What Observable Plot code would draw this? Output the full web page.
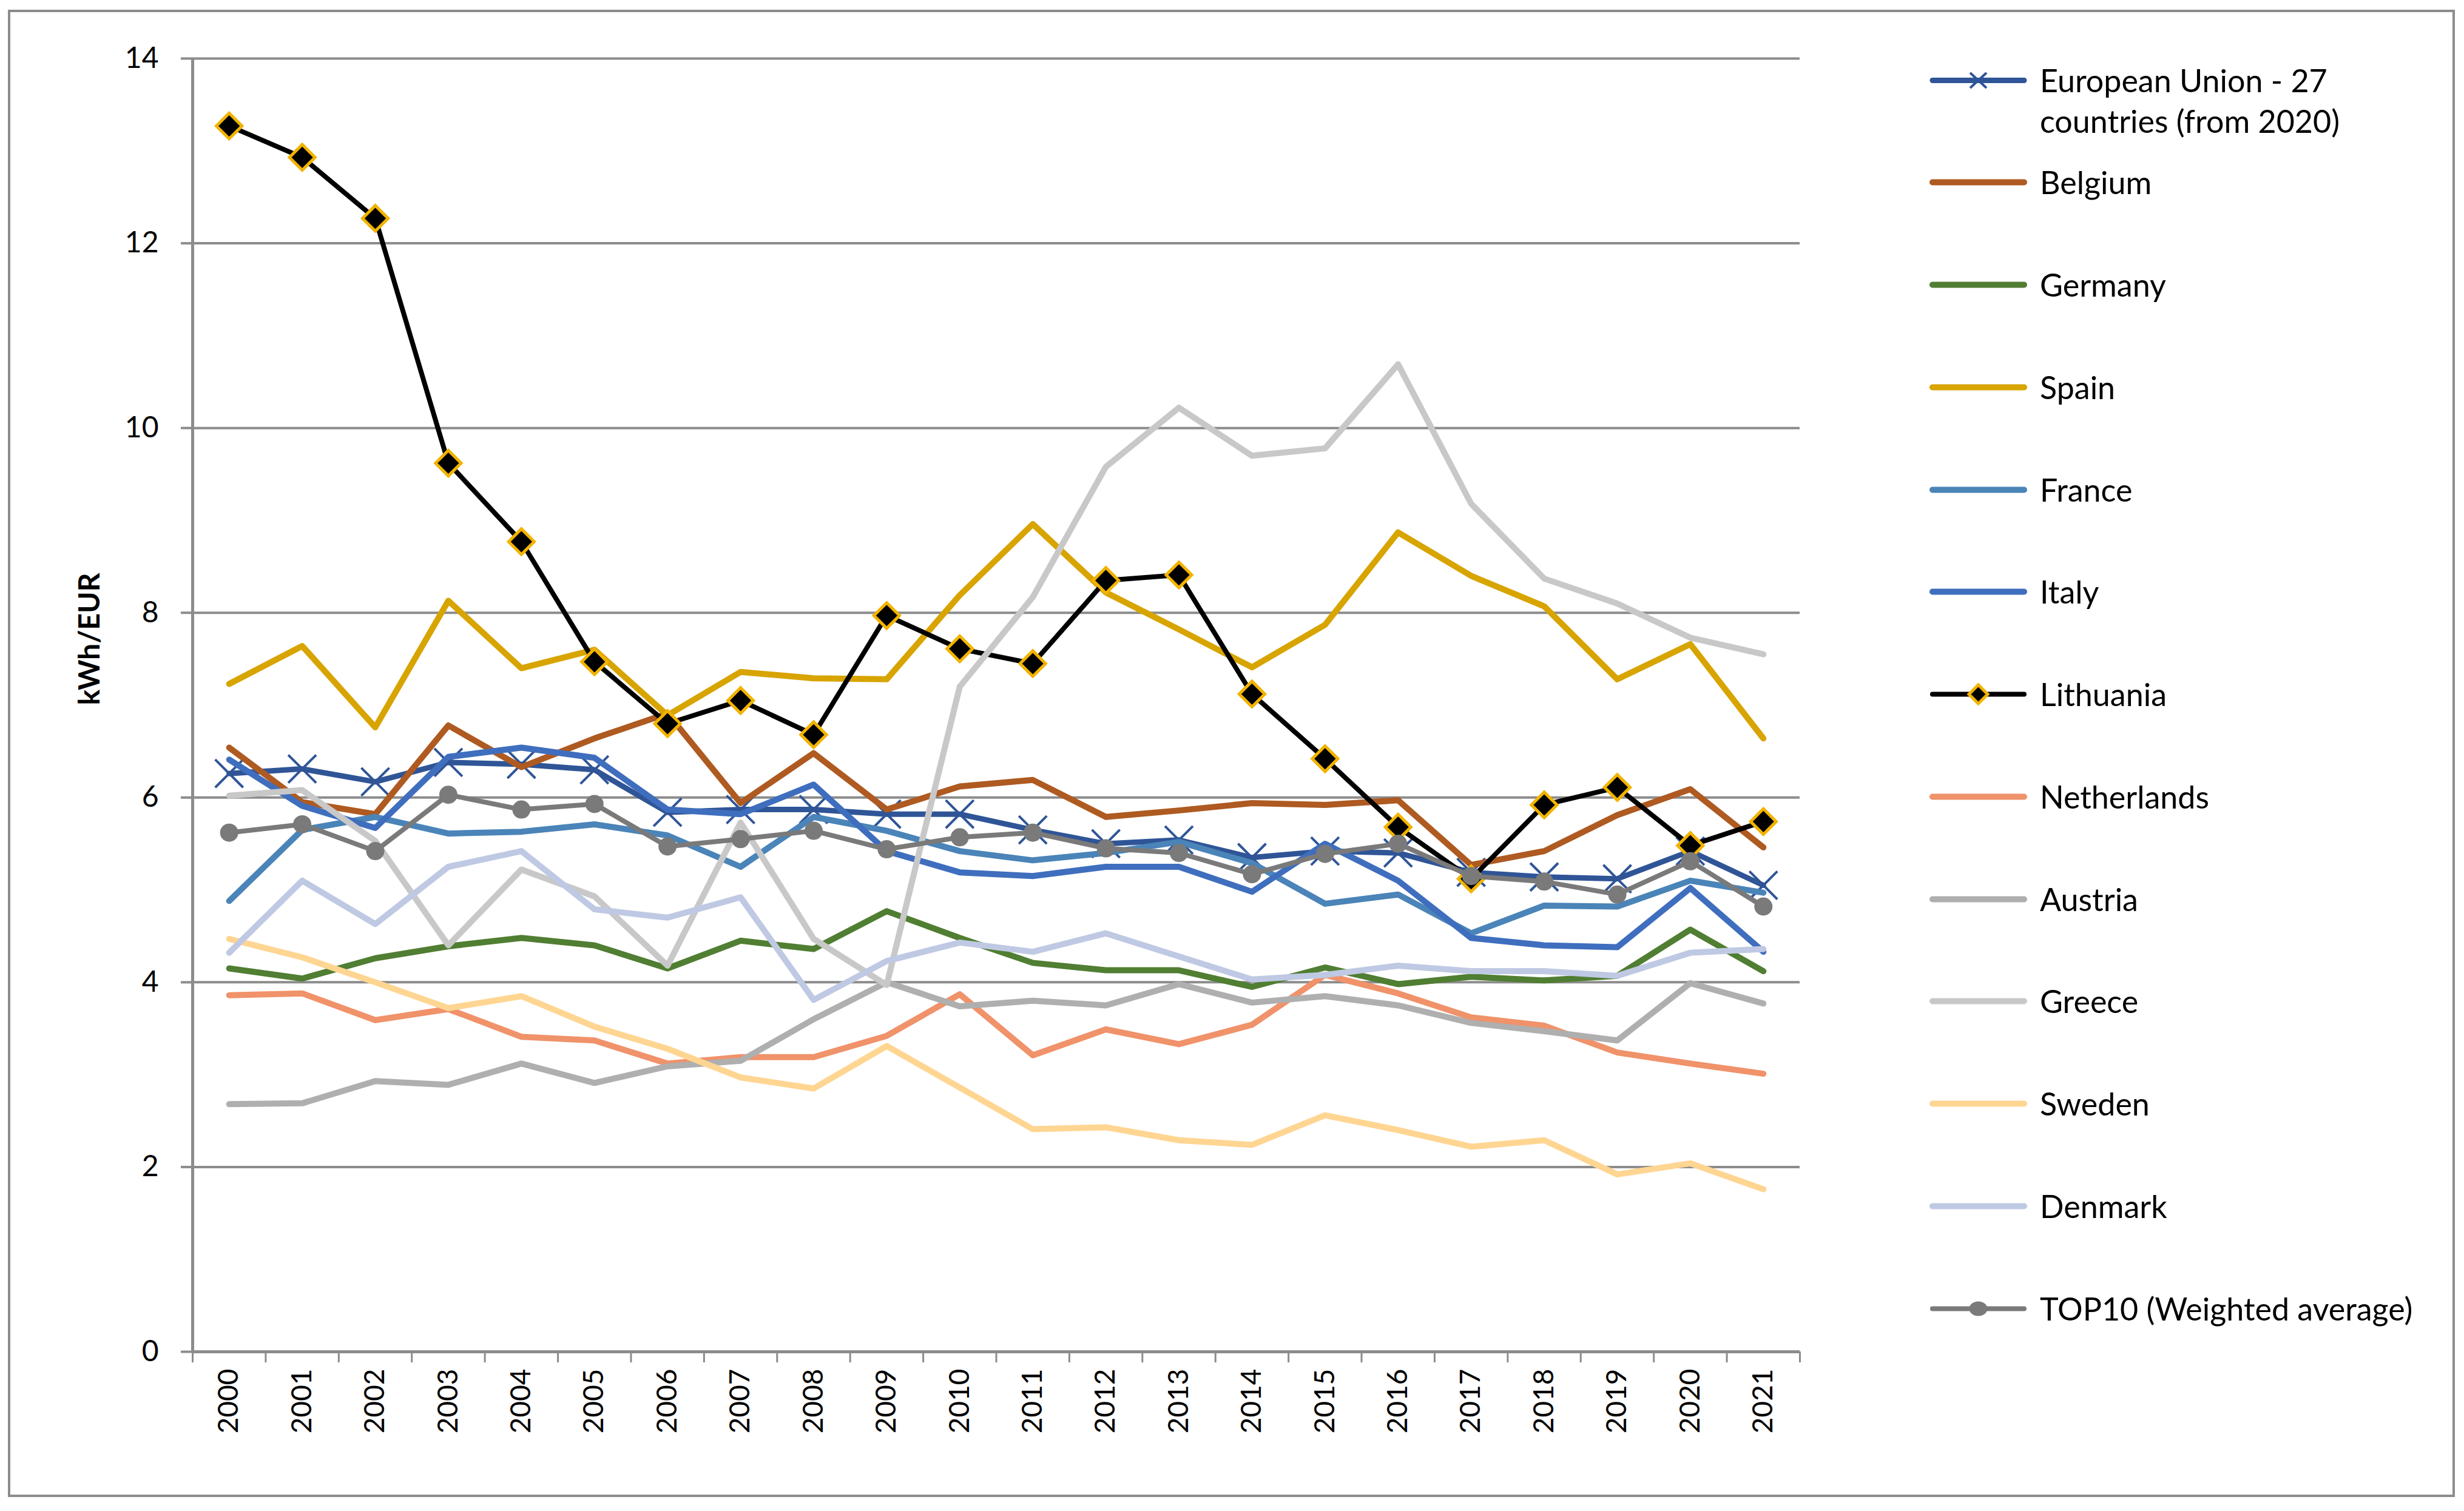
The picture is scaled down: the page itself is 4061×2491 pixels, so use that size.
<!DOCTYPE html>
<html>
<head>
<meta charset="utf-8">
<script src="https://cdn.jsdelivr.net/npm/d3@7"></script>
<script src="https://cdn.jsdelivr.net/npm/@observablehq/plot@0.6"></script>
<style>
html, body { margin: 0; padding: 0; background: #fff; }
body { width: 4061px; height: 2491px; position: relative; overflow: hidden; font-family: Lato, "Liberation Sans", sans-serif; color: #000; }
#frame { position: absolute; left: 13px; top: 16px; width: 4033px; height: 2452px; border: 4px solid #8c8c8c; box-sizing: border-box; }
#chart { position: absolute; left: 0; top: 0; }
.item { position: absolute; left: 3180px; display: flex; align-items: flex-start; }
.item svg { flex: none; }
.item .lab { margin-left: 21px; font-size: 52px; line-height: 67px; white-space: nowrap; }
</style>
</head>
<body>
<div id="frame"></div>
<div id="chart"></div>
<div id="legend"></div>
<script>
// ---- data ----
const years = [2000,2001,2002,2003,2004,2005,2006,2007,2008,2009,2010,2011,2012,2013,2014,2015,2016,2017,2018,2019,2020,2021];
const yTicks = [0,2,4,6,8,10,12,14];

const seriesNames = ["European Union - 27 countries (from 2020)","Belgium","Germany","Spain","France","Italy","Lithuania","Netherlands","Austria","Greece","Sweden","Denmark","TOP10 (Weighted average)"];

const euValues = [6.26,6.31,6.17,6.38,6.36,6.30,5.84,5.87,5.87,5.82,5.82,5.65,5.50,5.54,5.35,5.42,5.40,5.19,5.14,5.12,5.42,5.05];
const belgiumValues = [6.54,5.95,5.82,6.78,6.33,6.64,6.91,5.94,6.48,5.87,6.12,6.19,5.79,5.86,5.94,5.92,5.97,5.27,5.42,5.81,6.09,5.46];
const germanyValues = [4.15,4.04,4.26,4.39,4.48,4.40,4.15,4.45,4.36,4.77,4.48,4.21,4.13,4.13,3.95,4.16,3.98,4.06,4.02,4.07,4.57,4.12];
const spainValues = [7.23,7.64,6.76,8.13,7.40,7.60,6.89,7.36,7.29,7.28,8.19,8.96,8.22,7.82,7.41,7.87,8.87,8.40,8.07,7.28,7.66,6.64];
const franceValues = [4.88,5.65,5.79,5.61,5.63,5.71,5.59,5.25,5.79,5.64,5.42,5.32,5.40,5.52,5.29,4.85,4.95,4.53,4.83,4.82,5.10,4.97];
const italyValues = [6.41,5.91,5.67,6.44,6.54,6.43,5.87,5.82,6.14,5.42,5.19,5.15,5.25,5.25,4.98,5.50,5.10,4.48,4.40,4.38,5.02,4.33];
const lithuaniaValues = [13.27,12.93,12.27,9.62,8.77,7.47,6.80,7.05,6.68,7.97,7.61,7.45,8.35,8.41,7.12,6.42,5.68,5.12,5.92,6.11,5.48,5.74];
const netherlandsValues = [3.86,3.88,3.59,3.71,3.41,3.37,3.12,3.19,3.19,3.42,3.87,3.21,3.49,3.33,3.54,4.08,3.88,3.62,3.53,3.24,3.12,3.01];
const austriaValues = [2.68,2.69,2.93,2.89,3.12,2.91,3.09,3.15,3.60,4.00,3.74,3.80,3.75,3.98,3.78,3.85,3.75,3.56,3.47,3.37,3.99,3.77];
const greeceValues = [6.02,6.08,5.53,4.40,5.22,4.93,4.18,5.73,4.47,3.97,7.20,8.17,9.58,10.22,9.70,9.78,10.69,9.18,8.37,8.10,7.73,7.55];
const swedenValues = [4.47,4.27,4.00,3.72,3.85,3.52,3.28,2.97,2.85,3.31,2.86,2.41,2.43,2.29,2.24,2.56,2.40,2.22,2.29,1.92,2.04,1.76];
const denmarkValues = [4.32,5.10,4.63,5.25,5.42,4.79,4.70,4.92,3.81,4.23,4.43,4.33,4.53,4.28,4.03,4.08,4.18,4.12,4.12,4.07,4.32,4.36];
const top10Values = [5.62,5.71,5.42,6.03,5.87,5.93,5.47,5.55,5.64,5.44,5.57,5.62,5.45,5.40,5.17,5.39,5.50,5.15,5.09,4.95,5.31,4.82];

// ---- styles ----
const seriesValues = [euValues,belgiumValues,germanyValues,spainValues,franceValues,italyValues,lithuaniaValues,netherlandsValues,austriaValues,greeceValues,swedenValues,denmarkValues,top10Values];
const seriesColors = ["#2f5597","#ae5a21","#507e32","#d8a400","#4a84b8","#3f6ebe","#000000","#f0926a","#afafaf","#c8c8c8","#ffd592","#bfc9e3","#7a7a7a"];
const seriesWidths = [9,10,10,10,10,10,8,10,10,10,10,10,8];
const seriesMarkers = ["times",null,null,null,null,null,"diamond",null,null,null,null,null,"circle"];

const series = seriesNames.map((name, i) => ({
  name, color: seriesColors[i], width: seriesWidths[i], marker: seriesMarkers[i],
  rows: years.map((year, j) => ({year, value: seriesValues[i][j], series: name}))
}));

const grid = "#8c8c8c";
const xDomain = [years[0] - 0.5, years[years.length - 1] + 0.5];
const boundaries = years.map(y => y - 0.5).concat([years[years.length - 1] + 0.5]);

const marks = [
  Plot.gridY(yTicks, {stroke: grid, strokeOpacity: 1, strokeWidth: 4}),
  Plot.axisY(yTicks, {tickSize: 19, tickPadding: 37, stroke: grid, strokeWidth: 4, label: null, fontSize: 48, tickFormat: d => String(d)}),
  Plot.axisX(boundaries, {tickSize: 18, tickFormat: () => "", stroke: grid, strokeWidth: 3, label: null}),
  Plot.axisX(years, {tickSize: 0, tickRotate: -90, tickPadding: 28, tickFormat: d => String(d), label: null, fontSize: 46}),
  Plot.ruleY([0], {stroke: grid, strokeWidth: 5}),
  Plot.ruleX([xDomain[0]], {stroke: grid, strokeWidth: 5}),
  Plot.text(["kWh/EUR"], {text: d => d, frameAnchor: "left", rotate: -90, dx: -169, fontWeight: "bold", fontSize: 48})
];

for (const s of series) {
  marks.push(Plot.line(s.rows, {x: "year", y: "value", stroke: s.color, strokeWidth: s.width, strokeLinejoin: "round", strokeLinecap: "round"}));
  if (s.marker === "times") {
    marks.push(Plot.dot(s.rows, {x: "year", y: "value", symbol: "times", r: 21, stroke: s.color, strokeWidth: 4}));
  } else if (s.marker === "diamond") {
    marks.push(Plot.dot(s.rows, {x: "year", y: "value", symbol: "diamond2", r: 19, fill: "#000", stroke: "#f2b300", strokeWidth: 5}));
  } else if (s.marker === "circle") {
    marks.push(Plot.dot(s.rows, {x: "year", y: "value", r: 15, fill: s.color, stroke: "none"}));
  }
}

const chart = Plot.plot({
  width: 3000,
  height: 2400,
  marginLeft: 317,
  marginRight: 34,
  marginTop: 96,
  marginBottom: 172,
  x: {type: "linear", domain: xDomain},
  y: {domain: [0, 14]},
  style: {fontFamily: "Lato, 'Liberation Sans', sans-serif", fontSize: "48px", background: "transparent", overflow: "visible", color: "#000"},
  marks
});
document.getElementById("chart").appendChild(chart);

// ---- legend ----
const legend = document.getElementById("legend");
const legendTop = 132, legendStep = 168.75;
series.forEach((s, i) => {
  const cy = legendTop + i * legendStep;
  const item = document.createElement("div");
  item.className = "item";
  item.style.top = (cy - 33.5) + "px";
  let mk = "";
  if (s.marker === "times") mk = `<path d="M67,21 L94,46 M67,46 L94,21" stroke="${s.color}" stroke-width="4"/>`;
  if (s.marker === "diamond") mk = `<path d="M80.5,18 L96,33.5 L80.5,49 L65,33.5 Z" fill="#000" stroke="#f2b300" stroke-width="5"/>`;
  if (s.marker === "circle") mk = `<ellipse cx="80.5" cy="33.5" rx="15" ry="12" fill="${s.color}"/>`;
  item.innerHTML = `<svg width="161" height="67"><line x1="5" x2="156" y1="33.5" y2="33.5" stroke="${s.color}" stroke-width="${s.width}" stroke-linecap="round"/>${mk}</svg>` +
    `<div class="lab">${i === 0 ? "European Union - 27<br>countries (from 2020)" : s.name}</div>`;
  legend.appendChild(item);
});
</script>
</body>
</html>
